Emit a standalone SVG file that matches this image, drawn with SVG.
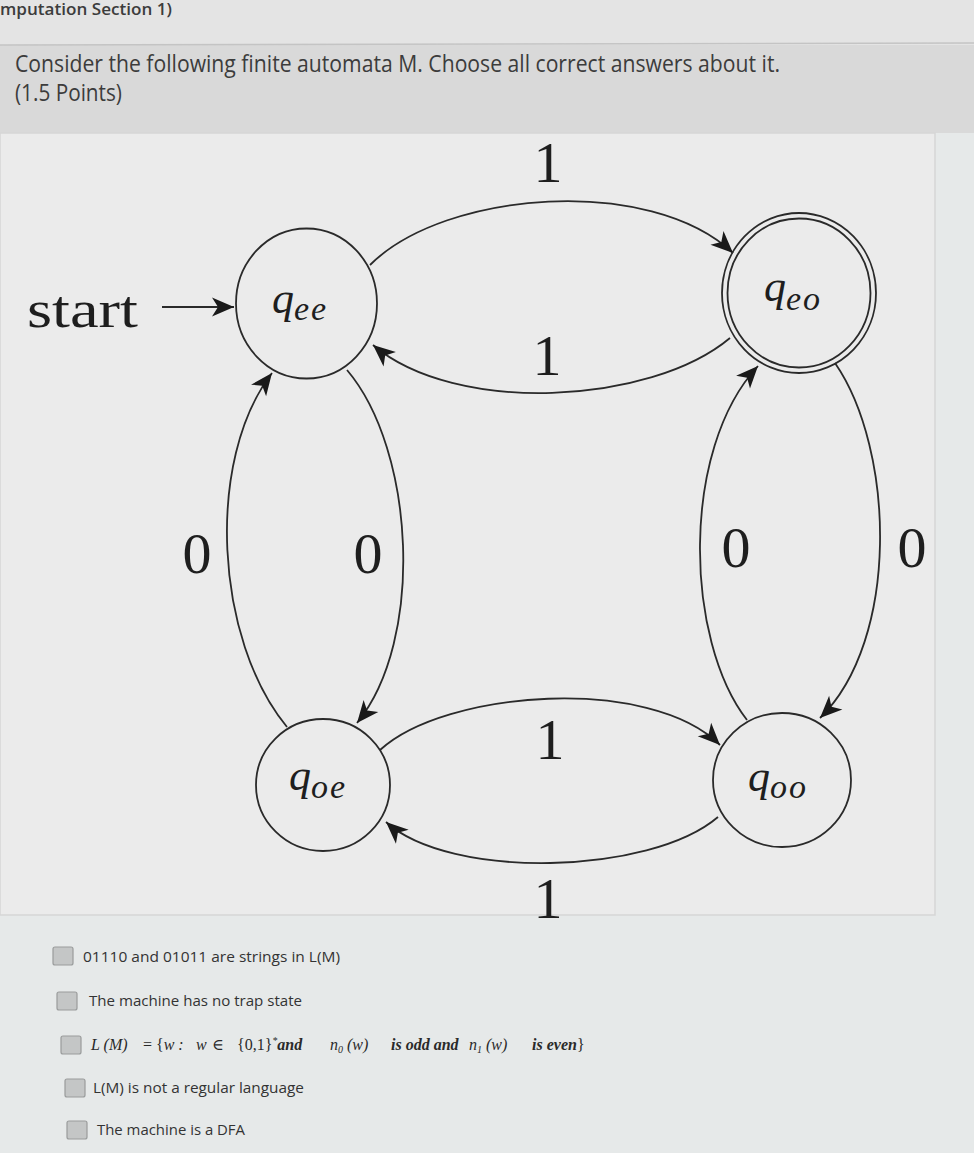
<svg xmlns="http://www.w3.org/2000/svg" width="974" height="1153" viewBox="0 0 974 1153">
  <style>
    .state { fill: none; stroke: #2a2a2a; stroke-width: 1.8; }
    .edge { fill: none; stroke: #2a2a2a; stroke-width: 1.8; marker-end: url(#arrow); }
    .lbl { font-family: "Liberation Serif", "DejaVu Serif", serif; font-size: 58px; fill: #1e1e1e; text-anchor: middle; }
    .q { font-family: "Liberation Serif", "DejaVu Serif", serif; font-style: italic; font-size: 44px; fill: #1e1e1e; }
    .sub { font-size: 34px; letter-spacing: 2px; }
    .ui { font-family: "Open Sans", "Noto Sans", "Liberation Sans", sans-serif; fill: #3c3c3c; }
    .opt { font-family: "Open Sans", "Noto Sans", "Liberation Sans", sans-serif; font-size: 14px; fill: #333333; }
    .math { font-family: "Liberation Serif", "DejaVu Serif", serif; font-size: 16px; fill: #2a2a2a; font-style: italic; }
    .box { fill: #c4c6c6; stroke: #9a9c9c; stroke-width: 1.2; }
  </style>
  <defs>
    <marker id="arrow" viewBox="-24 -11 26 22" refX="0" refY="0" markerWidth="26" markerHeight="22" markerUnits="userSpaceOnUse" orient="auto">
      <path d="M0,0 L-22,-9.5 L-16,0 L-22,9.5 Z" fill="#1a1a1a"/>
    </marker>
  </defs>

  <!-- background -->
  <rect x="0" y="0" width="974" height="1153" fill="#e6e9e9"/>
  <rect x="0" y="0" width="974" height="45" fill="#e4e4e4"/>
  <rect x="0" y="45" width="974" height="88" fill="#d9d9d9"/>
  <line x1="0" y1="45" x2="974" y2="43" stroke="#c4c4c4" stroke-width="1.5"/>
  <rect x="0" y="133" width="935" height="782" fill="#ebebeb" stroke="#d6d6d6" stroke-width="1.5"/>

  <!-- header text -->
  <text class="ui" x="0" y="15" font-size="16" font-weight="600" fill="#505050" textLength="172" lengthAdjust="spacingAndGlyphs">mputation Section 1)</text>
  <text class="ui" x="15" y="72" font-size="23" textLength="765" lengthAdjust="spacingAndGlyphs">Consider the following finite automata M. Choose all correct answers about it.</text>
  <text class="ui" x="15" y="101" font-size="23" textLength="107" lengthAdjust="spacingAndGlyphs">(1.5 Points)</text>

  <!-- start arrow -->
  <g id="start">
    <text x="27" y="327" font-family="Liberation Serif, DejaVu Serif, serif" font-size="52" fill="#1e1e1e" textLength="111" lengthAdjust="spacingAndGlyphs">start</text>
  </g>

  <!-- connectors -->
  <g id="connectors">
    <line class="edge" x1="162" y1="307" x2="234" y2="307"/>
    <path class="edge" d="M370,265 C445,190 650,175 733,253"/>
    <path class="edge" d="M730,338 C650,405 455,415 373,345"/>
    <path class="edge" d="M287,727 C215,640 205,460 272,373"/>
    <path class="edge" d="M347,370 C415,450 425,640 357,723"/>
    <path class="edge" d="M747,720 C685,640 680,450 758,366"/>
    <path class="edge" d="M835,363 C895,450 900,640 820,718"/>
    <path class="edge" d="M380,750 C445,690 650,675 720,745"/>
    <path class="edge" d="M718,817 C650,875 450,880 386,822"/>
    <text class="lbl" x="548" y="182">1</text>
    <text class="lbl" x="547" y="375">1</text>
    <text class="lbl" x="550" y="759">1</text>
    <text class="lbl" x="548" y="918">1</text>
    <text class="lbl" x="197" y="573">0</text>
    <text class="lbl" x="368" y="573">0</text>
    <text class="lbl" x="736" y="567">0</text>
    <text class="lbl" x="912" y="567">0</text>
  </g>

  <!-- states -->
  <g id="q_ee">
    <ellipse class="state" cx="306.5" cy="303.5" rx="70.5" ry="75"/>
    <text class="q" x="272" y="313">q<tspan class="sub" dy="7">ee</tspan></text>
  </g>
  <g id="q_eo">
    <ellipse class="state" cx="799" cy="293" rx="77" ry="80"/>
    <ellipse class="state" cx="799" cy="293" rx="71.5" ry="74.5"/>
    <text class="q" x="764" y="301">q<tspan class="sub" dy="9">eo</tspan></text>
  </g>
  <g id="q_oe">
    <ellipse class="state" cx="323" cy="785" rx="67" ry="66"/>
    <text class="q" x="289" y="790">q<tspan class="sub" dy="8">oe</tspan></text>
  </g>
  <g id="q_oo">
    <ellipse class="state" cx="782" cy="780" rx="69" ry="67"/>
    <text class="q" x="748" y="791">q<tspan class="sub" dy="7">oo</tspan></text>
  </g>

  <!-- options -->
  <g id="options">
    <rect class="box" x="53" y="947" width="20" height="18" rx="2"/>
    <text class="opt" x="83" y="962" textLength="257" lengthAdjust="spacingAndGlyphs">01110 and 01011 are strings in L(M)</text>
    <rect class="box" x="57" y="992" width="20" height="18" rx="2"/>
    <text class="opt" x="89" y="1006" textLength="213" lengthAdjust="spacingAndGlyphs">The machine has no trap state</text>
    <rect class="box" x="61" y="1036" width="20" height="18" rx="2"/>
    <text class="math" y="1050"><tspan x="91">L (M)</tspan><tspan x="143" font-style="normal">=</tspan><tspan x="156" font-style="normal">{</tspan><tspan>w :</tspan><tspan x="196">w</tspan><tspan x="212" font-style="normal">∈</tspan><tspan x="237" font-style="normal">{0,1}</tspan><tspan dy="-6" font-size="10">*</tspan><tspan dy="6" font-weight="bold">and</tspan><tspan x="330">n</tspan><tspan dy="3" font-size="10">0</tspan><tspan dy="-3"> (w)</tspan><tspan x="391" font-weight="bold">is odd and</tspan><tspan x="469">n</tspan><tspan dy="3" font-size="10">1</tspan><tspan dy="-3"> (w)</tspan><tspan x="532" font-weight="bold">is even</tspan><tspan font-style="normal">}</tspan></text>
    <rect class="box" x="65" y="1079" width="20" height="18" rx="2"/>
    <text class="opt" x="93" y="1093" textLength="211" lengthAdjust="spacingAndGlyphs">L(M) is not a regular language</text>
    <rect class="box" x="67" y="1121" width="20" height="18" rx="2"/>
    <text class="opt" x="97" y="1135" textLength="148" lengthAdjust="spacingAndGlyphs">The machine is a DFA</text>
  </g>
</svg>
